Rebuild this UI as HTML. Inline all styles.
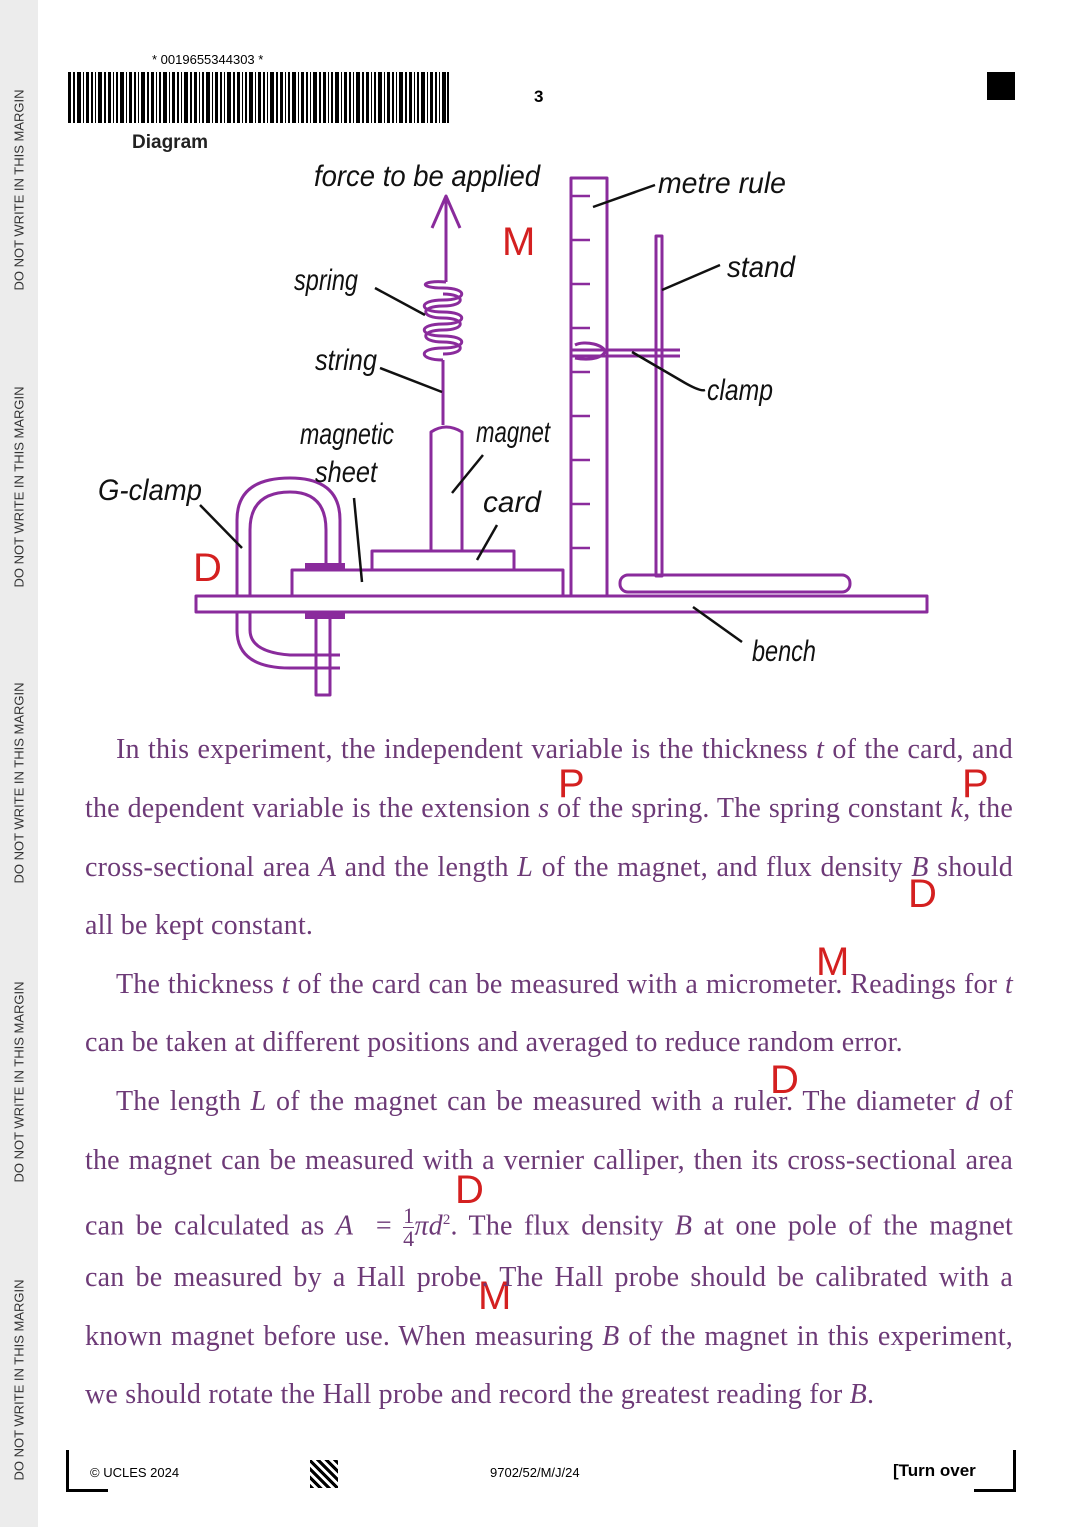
<!DOCTYPE html>
<html><head><meta charset="utf-8"><style>
body{margin:0;width:1080px;height:1527px;position:relative;background:#fff;overflow:hidden;font-family:"Liberation Sans",sans-serif}
.margin{position:absolute;left:0;top:0;width:38px;height:1527px;background:#ececec}
.mt{position:absolute;left:19px;transform:translate(-50%,-50%) rotate(-90deg);font-size:13px;color:#333;white-space:nowrap}
.ln{position:absolute;left:85px;width:928px;font-family:"Liberation Serif",serif;font-size:28px;letter-spacing:0.2px;color:#6d3a77;text-align:justify;text-align-last:justify;white-space:nowrap;line-height:32px}
.ln.l{text-align-last:left}
i{font-style:italic}
.red{position:absolute;color:#d42020;font-family:"Liberation Sans",sans-serif;font-size:40px;font-weight:300}
</style></head><body>
<div class="margin"></div>
<div class="mt" style="top:190px">DO NOT WRITE IN THIS MARGIN</div>
<div class="mt" style="top:487px">DO NOT WRITE IN THIS MARGIN</div>
<div class="mt" style="top:783px">DO NOT WRITE IN THIS MARGIN</div>
<div class="mt" style="top:1082px">DO NOT WRITE IN THIS MARGIN</div>
<div class="mt" style="top:1380px">DO NOT WRITE IN THIS MARGIN</div>

<div style="position:absolute;left:152px;top:52px;font-size:13px">* 0019655344303 *</div>
<svg style="position:absolute;left:68px;top:72px" width="381" height="51">
<g fill="#000">
<rect x="0" width="3" height="51"/><rect x="5" width="2" height="51"/><rect x="9" width="4" height="51"/><rect x="15" width="1" height="51"/><rect x="18" width="3" height="51"/><rect x="23" width="2" height="51"/><rect x="27" width="1" height="51"/><rect x="30" width="4" height="51"/><rect x="36" width="2" height="51"/><rect x="40" width="3" height="51"/><rect x="45" width="1" height="51"/><rect x="48" width="2" height="51"/><rect x="52" width="4" height="51"/><rect x="58" width="1" height="51"/><rect x="61" width="3" height="51"/><rect x="66" width="2" height="51"/><rect x="70" width="1" height="51"/><rect x="73" width="4" height="51"/><rect x="79" width="2" height="51"/><rect x="83" width="3" height="51"/><rect x="88" width="1" height="51"/><rect x="91" width="2" height="51"/><rect x="95" width="4" height="51"/><rect x="101" width="1" height="51"/><rect x="104" width="3" height="51"/><rect x="109" width="2" height="51"/><rect x="113" width="1" height="51"/><rect x="116" width="4" height="51"/><rect x="122" width="2" height="51"/><rect x="126" width="3" height="51"/><rect x="131" width="1" height="51"/><rect x="134" width="2" height="51"/><rect x="138" width="4" height="51"/><rect x="144" width="1" height="51"/><rect x="147" width="3" height="51"/><rect x="152" width="2" height="51"/><rect x="156" width="1" height="51"/><rect x="159" width="4" height="51"/><rect x="165" width="2" height="51"/><rect x="169" width="3" height="51"/><rect x="174" width="1" height="51"/><rect x="177" width="2" height="51"/><rect x="181" width="4" height="51"/><rect x="187" width="1" height="51"/><rect x="190" width="3" height="51"/><rect x="195" width="2" height="51"/><rect x="199" width="1" height="51"/><rect x="202" width="4" height="51"/><rect x="208" width="2" height="51"/><rect x="212" width="3" height="51"/><rect x="217" width="1" height="51"/><rect x="220" width="2" height="51"/><rect x="224" width="4" height="51"/><rect x="230" width="1" height="51"/><rect x="233" width="3" height="51"/><rect x="238" width="2" height="51"/><rect x="242" width="1" height="51"/><rect x="245" width="4" height="51"/><rect x="251" width="2" height="51"/><rect x="255" width="3" height="51"/><rect x="260" width="1" height="51"/><rect x="263" width="2" height="51"/><rect x="267" width="4" height="51"/><rect x="273" width="1" height="51"/><rect x="276" width="3" height="51"/><rect x="281" width="2" height="51"/><rect x="285" width="1" height="51"/><rect x="288" width="4" height="51"/><rect x="294" width="2" height="51"/><rect x="298" width="3" height="51"/><rect x="303" width="1" height="51"/><rect x="306" width="2" height="51"/><rect x="310" width="4" height="51"/><rect x="316" width="1" height="51"/><rect x="319" width="3" height="51"/><rect x="324" width="2" height="51"/><rect x="328" width="1" height="51"/><rect x="331" width="4" height="51"/><rect x="337" width="2" height="51"/><rect x="341" width="3" height="51"/><rect x="346" width="1" height="51"/><rect x="349" width="2" height="51"/><rect x="353" width="4" height="51"/><rect x="359" width="1" height="51"/><rect x="362" width="3" height="51"/><rect x="367" width="2" height="51"/><rect x="371" width="1" height="51"/><rect x="374" width="4" height="51"/><rect x="379" width="2" height="51"/>
</g></svg>
<div style="position:absolute;left:534px;top:87px;font-size:17px;font-weight:bold">3</div>
<div style="position:absolute;left:987px;top:72px;width:28px;height:28px;background:#000"></div>
<div style="position:absolute;left:132px;top:132px;font-size:19px;font-weight:bold;color:#222">Diagram</div>

<svg style="position:absolute;left:0;top:0" width="1080" height="720">
<g fill="none" stroke="#8a2b9c" stroke-width="3" stroke-linejoin="round">
<rect x="196" y="596" width="731" height="16"/>
<rect x="292" y="570" width="271" height="26"/>
<rect x="372" y="551" width="142" height="19"/>
<path d="M431 551 V432 Q446 422 462 432 V551"/>
<line x1="443" y1="425" x2="443" y2="360"/>
<path d="M443 360 C418 360 418 348 443 348 C468 348 468 336 443 336 C418 336 418 324 443 324 C468 324 468 312 443 312 C418 312 418 300 443 300 C468 300 468 288 443 288 C418 288 420 280 446 282"/>
<path d="M443 354 C466 354 466 342 443 342 C420 342 420 330 443 330 C466 330 466 318 443 318 C420 318 420 306 443 306 C466 306 466 294 443 294"/>
<line x1="446" y1="282" x2="446" y2="198"/>
<path d="M432 228 L446 196 L460 228"/>
<rect x="571" y="178" width="36" height="418"/>
<g stroke-width="2.5">
<line x1="571" y1="196" x2="590" y2="196"/><line x1="571" y1="240" x2="590" y2="240"/><line x1="571" y1="284" x2="590" y2="284"/><line x1="571" y1="328" x2="590" y2="328"/><line x1="571" y1="372" x2="590" y2="372"/><line x1="571" y1="416" x2="590" y2="416"/><line x1="571" y1="460" x2="590" y2="460"/><line x1="571" y1="504" x2="590" y2="504"/><line x1="571" y1="548" x2="590" y2="548"/>
</g>
<rect x="656" y="236" width="6" height="340"/>
<rect x="620" y="575" width="230" height="17" rx="8"/>
<path d="M572 350 L680 350 M572 356 L680 356"/>
<path d="M575 345 C585 340 605 345 605 352 C600 360 585 360 575 358"/>
<path d="M237 596 V520 Q237 478 290 478 Q340 478 340 520 V563"/>
<path d="M250 596 V530 Q250 492 290 492 Q326 492 326 530 V563"/>
<path d="M237 612 V630 Q237 668 290 668 L340 668"/>
<path d="M250 612 V630 Q250 652 290 655 L340 655"/>
<rect x="316" y="612" width="14" height="83"/>
</g>
<rect x="305" y="563" width="40" height="7" fill="#8a2b9c"/>
<rect x="305" y="612" width="40" height="7" fill="#8a2b9c"/>
<g stroke="#111" stroke-width="2.5" fill="none">
<line x1="593" y1="207" x2="655" y2="185"/>
<line x1="662" y1="290" x2="720" y2="265"/>
<path d="M632 352 L680 380 Q700 392 705 390"/>
<line x1="375" y1="288" x2="425" y2="315"/>
<line x1="380" y1="368" x2="442" y2="392"/>
<line x1="452" y1="493" x2="483" y2="455"/>
<line x1="477" y1="560" x2="497" y2="525"/>
<line x1="354" y1="498" x2="362" y2="582"/>
<line x1="200" y1="505" x2="242" y2="548"/>
<line x1="693" y1="607" x2="742" y2="642"/>
</g>
<g font-family="'Liberation Sans',sans-serif" font-style="italic" fill="#111" font-size="30" lengthAdjust="spacingAndGlyphs">
<text x="314" y="186" textLength="226" lengthAdjust="spacingAndGlyphs">force to be applied</text>
<text x="658" y="193" textLength="128" lengthAdjust="spacingAndGlyphs">metre rule</text>
<text x="727" y="277" textLength="68" lengthAdjust="spacingAndGlyphs">stand</text>
<text x="707" y="400" textLength="66" lengthAdjust="spacingAndGlyphs">clamp</text>
<text x="294" y="290" textLength="64" lengthAdjust="spacingAndGlyphs">spring</text>
<text x="315" y="370" textLength="62" lengthAdjust="spacingAndGlyphs">string</text>
<text x="300" y="444" textLength="94" lengthAdjust="spacingAndGlyphs">magnetic</text>
<text x="315" y="482" textLength="62" lengthAdjust="spacingAndGlyphs">sheet</text>
<text x="476" y="442" textLength="74" lengthAdjust="spacingAndGlyphs">magnet</text>
<text x="483" y="512" textLength="58" lengthAdjust="spacingAndGlyphs">card</text>
<text x="98" y="500" textLength="104" lengthAdjust="spacingAndGlyphs">G-clamp</text>
<text x="752" y="661" textLength="64" lengthAdjust="spacingAndGlyphs">bench</text>
</g>
</svg>

<div class="red" style="left:502px;top:220px">M</div>
<div class="red" style="left:193px;top:546px">D</div>
<div class="red" style="left:558px;top:762px">P</div>
<div class="red" style="left:962px;top:762px">P</div>
<div class="red" style="left:908px;top:872px">D</div>
<div class="red" style="left:816px;top:940px">M</div>
<div class="red" style="left:770px;top:1058px">D</div>
<div class="red" style="left:455px;top:1168px">D</div>
<div class="red" style="left:478px;top:1274px">M</div>

<div class="ln" style="top:734px;left:116px;width:897px">In this experiment, the independent variable is the thickness <i>t</i> of the card, and</div>
<div class="ln" style="top:793px">the dependent variable is the extension <i>s</i> of the spring. The spring constant <i>k</i>, the</div>
<div class="ln" style="top:852px">cross-sectional area <i>A</i> and the length <i>L</i> of the magnet, and flux density <i>B</i> should</div>
<div class="ln l" style="top:910px">all be kept constant.</div>
<div class="ln" style="top:969px;left:116px;width:897px">The thickness <i>t</i> of the card can be measured with a micrometer. Readings for <i>t</i></div>
<div class="ln l" style="top:1027px">can be taken at different positions and averaged to reduce random error.</div>
<div class="ln" style="top:1086px;left:116px;width:897px">The length <i>L</i> of the magnet can be measured with a ruler. The diameter <i>d</i> of</div>
<div class="ln" style="top:1145px">the magnet can be measured with a vernier calliper, then its cross-sectional area</div>
<div class="ln" style="top:1204px">can be calculated as <i>A</i> &nbsp;= <span style="display:inline-block;vertical-align:middle;text-align:center;font-size:22px;line-height:22px">1<br><span style="border-top:1px solid #6d3a77;display:block">4</span></span><i>πd</i><sup style="font-size:15px">2</sup>. The flux density <i>B</i> at one pole of the magnet</div>
<div class="ln" style="top:1262px">can be measured by a Hall probe. The Hall probe should be calibrated with a</div>
<div class="ln" style="top:1321px">known magnet before use. When measuring <i>B</i> of the magnet in this experiment,</div>
<div class="ln l" style="top:1379px">we should rotate the Hall probe and record the greatest reading for <i>B</i>.</div>

<div style="position:absolute;left:66px;top:1450px;width:3px;height:42px;background:#000"></div>
<div style="position:absolute;left:66px;top:1489px;width:42px;height:3px;background:#000"></div>
<div style="position:absolute;left:1013px;top:1450px;width:3px;height:42px;background:#000"></div>
<div style="position:absolute;left:974px;top:1489px;width:42px;height:3px;background:#000"></div>
<div style="position:absolute;left:90px;top:1465px;font-size:13px">© UCLES 2024</div>
<div style="position:absolute;left:310px;top:1460px;width:28px;height:28px;background:repeating-linear-gradient(45deg,#000 0 3px,#fff 3px 6px)"></div>
<div style="position:absolute;left:490px;top:1465px;font-size:13px">9702/52/M/J/24</div>
<div style="position:absolute;left:893px;top:1461px;font-size:17px;font-weight:bold">[Turn over</div>
</body></html>
